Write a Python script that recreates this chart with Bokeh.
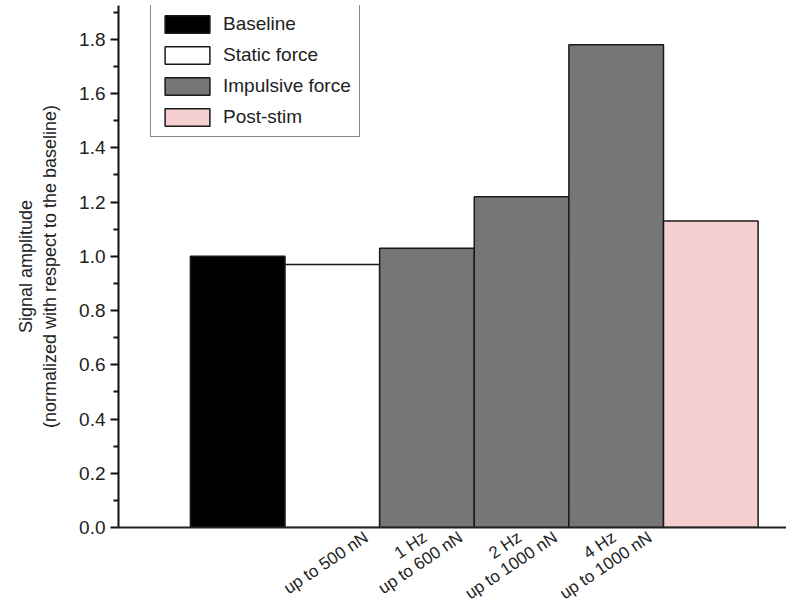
from bokeh.plotting import figure
from bokeh.models import ColumnDataSource, FixedTicker, Range1d, NumeralTickFormatter
from bokeh.embed import file_html
from bokeh.resources import INLINE
import math

# ---- data ----
positions = [1, 2, 3, 4, 5, 6]
groups = ["Baseline", "Static force", "Impulsive force", "Impulsive force",
          "Impulsive force", "Post-stim"]
amplitudes = [1.00, 0.97, 1.03, 1.22, 1.78, 1.13]
label_line1 = ["", "", "1 Hz", "2 Hz", "4 Hz", ""]
label_line2 = ["", "up to 500 nN", "up to 600 nN", "up to 1000 nN", "up to 1000 nN", ""]
colors = ["#000000", "#ffffff", "#767678", "#767678", "#767678", "#f6d0d0"]
y_ticks = [0.0, 0.2, 0.4, 0.6, 0.8, 1.0, 1.2, 1.4, 1.6, 1.8]
y_minor = [0.1, 0.3, 0.5, 0.7, 0.9, 1.1, 1.3, 1.5, 1.7, 1.9]

FONT = "Liberation Sans"
shift1 = -0.02  # where the rotated first line ends, relative to bar centre
shift2 = 0.36   # where the rotated second line ends, relative to bar centre

src = ColumnDataSource(dict(x=positions, top=amplitudes, group=groups, color=colors))

p = figure(width=786, height=614, output_backend="svg", toolbar_location=None,
           x_range=Range1d(-0.26, 6.80), y_range=Range1d(0, 1.925),
           min_border_left=118, min_border_right=0, min_border_top=5,
           min_border_bottom=87)
p.outline_line_color = None
p.xgrid.visible = False
p.ygrid.visible = False
p.background_fill_color = "white"

p.vbar(x="x", top="top", bottom=0, width=1.0, source=src, fill_color="color",
       line_color="#1a1a1a", line_width=1.5, legend_field="group")

# y axis
ya = p.yaxis[0]
ya.ticker = FixedTicker(ticks=y_ticks, minor_ticks=y_minor)
ya.formatter = NumeralTickFormatter(format="0.0")
ya.axis_line_width = 2
ya.axis_line_color = "#111111"
ya.major_tick_line_width = 2
ya.major_tick_line_color = "#111111"
ya.minor_tick_line_width = 2
ya.minor_tick_line_color = "#111111"
ya.major_tick_in = 0
ya.major_tick_out = 8
ya.minor_tick_in = 0
ya.minor_tick_out = 5
ya.major_label_text_font = FONT
ya.major_label_text_font_size = "19px"
ya.major_label_text_color = "#222222"
ya.major_label_standoff = 5
ya.axis_label = "Signal amplitude\n(normalized with respect to the baseline)"
ya.axis_label_text_font = FONT
ya.axis_label_text_font_size = "18px"
ya.axis_label_text_font_style = "normal"
ya.axis_label_text_color = "#222222"
ya.axis_label_standoff = 16

# x axis: two rotated label lines per bar, each on its own tick
ticks = []
overrides = {}
for pos, l1, l2 in zip(positions, label_line1, label_line2):
    if l1:
        t = pos + shift1
        ticks.append(t)
        overrides[t] = l1
    if l2:
        t = pos + shift2
        ticks.append(t)
        overrides[t] = l2
xa = p.xaxis[0]
xa.ticker = FixedTicker(ticks=ticks)
xa.major_label_overrides = overrides
xa.major_label_orientation = math.radians(34)
xa.major_tick_line_color = None
xa.minor_tick_line_color = None
xa.major_tick_in = 0
xa.major_tick_out = 0
xa.axis_line_width = 2
xa.axis_line_color = "#222222"
xa.major_label_text_font = FONT
xa.major_label_text_font_size = "17px"
xa.major_label_text_color = "#222222"
xa.major_label_standoff = 8

# legend
lg = p.legend[0]
lg.location = (32, 390)
lg.glyph_width = 56
lg.glyph_height = 22
lg.label_text_font = FONT
lg.label_text_font_size = "19px"
lg.label_text_color = "#222222"
lg.label_standoff = 8
lg.border_line_color = "#111111"
lg.border_line_width = 1.5
lg.padding = 8
lg.spacing = 9
lg.margin = 0
lg.background_fill_alpha = 1.0

open("out.html", "w").write(file_html(p, INLINE))
